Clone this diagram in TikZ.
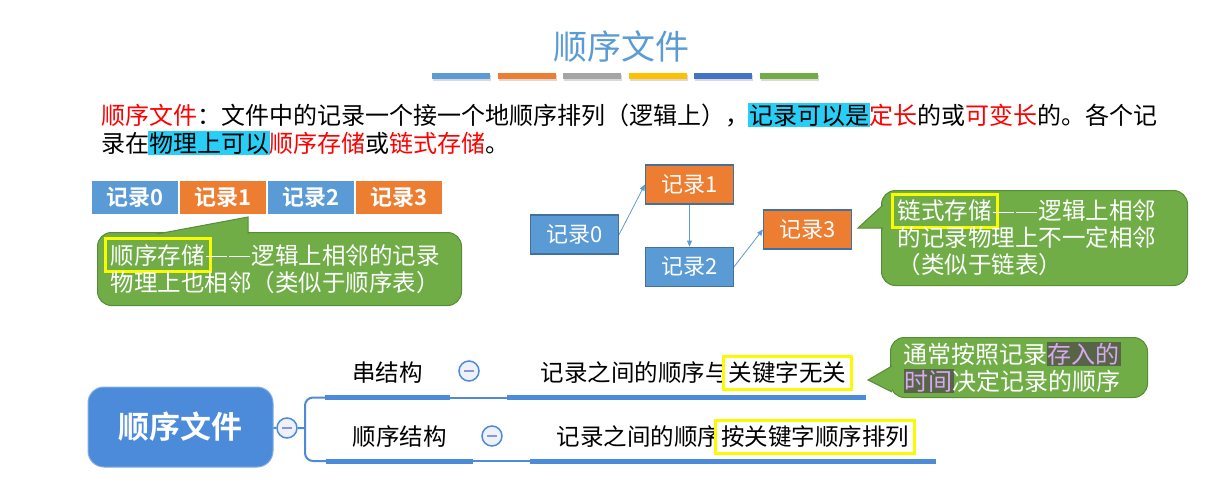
\documentclass[tikz,border=0pt]{standalone}
\usepackage{fontspec}
\setmainfont{Noto Sans CJK SC}[BoldFont={Noto Sans CJK SC Bold}]
\usetikzlibrary{arrows.meta,positioning}
\definecolor{skyblue}{RGB}{91,155,213}
\definecolor{tangerine}{RGB}{237,125,49}
\definecolor{ash}{RGB}{165,165,165}
\definecolor{gold}{RGB}{255,192,0}
\definecolor{royal}{RGB}{68,114,196}
\definecolor{grass}{RGB}{112,173,71}
\definecolor{grassedge}{RGB}{86,140,52}
\definecolor{boxedge}{RGB}{65,113,156}
\definecolor{mapblue}{RGB}{76,138,218}
\definecolor{hlcyan}{RGB}{40,206,246}
\definecolor{hlyellow}{RGB}{250,250,0}
\definecolor{hldark}{RGB}{88,100,72}
\definecolor{hlpurple}{RGB}{214,170,240}
\definecolor{foldfill}{RGB}{238,241,250}
\definecolor{foldminus}{RGB}{140,150,205}
\definecolor{textred}{RGB}{255,0,0}
\newcommand{\redtext}[1]{\textcolor{textred}{#1}}
\newcommand{\cyanmark}[1]{{\setlength{\fboxsep}{1pt}\kern-1pt\colorbox{hlcyan}{#1}\kern-1pt}}
\newcommand{\darkmark}[1]{{\setlength{\fboxsep}{1pt}\kern-1pt\colorbox{hldark}{\textcolor{hlpurple}{#1}}\kern-1pt}}
\newcommand{\yellowframe}[2]{{\setlength{\fboxrule}{3pt}\setlength{\fboxsep}{4pt}\kern-7pt\smash{\fcolorbox{hlyellow}{#1}{#2}}\kern-7pt}}
\newcommand{\longdash}{\hspace{0.06em}\rule[0.3em]{0.88em}{1.2pt}\hspace{0.12em}\rule[0.3em]{0.88em}{1.2pt}\hspace{0.06em}}

\begin{document}
\begin{tikzpicture}[
  x=1pt, y=-1pt,
  para/.style={anchor=base west, inner sep=0, font=\fontsize{24}{28}\selectfont},
  seqbox/.style={draw=white, line width=1pt, minimum width=87pt, minimum height=34pt, inner sep=0, text=white, font=\fontsize{22}{24}\selectfont\bfseries},
  linkbox/.style={draw=boxedge, line width=1.2pt, minimum width=88pt, minimum height=39pt, inner sep=0, text=white, font=\fontsize{22}{24}\selectfont},
  bubble/.style={draw=grassedge, line width=1pt, fill=grass, rounded corners=14pt, anchor=north west, align=left, text=white, inner ysep=0, font=\fontsize{23.5}{27}\selectfont},
  tip/.style={draw=grassedge, line width=1pt, fill=grass},
  link/.style={draw=skyblue, line width=0.8pt, -{Triangle[length=6pt,width=5pt]}},
  root/.style={fill=mapblue, draw=mapblue!70!white, line width=1pt, rounded corners=16pt, minimum width=185pt, minimum height=80pt, text=white, font=\fontsize{31}{34}\selectfont\bfseries},
  fold/.style={circle, draw=mapblue, line width=1.5pt, fill=foldfill, minimum size=20pt, inner sep=0,
    path picture={\draw[foldminus, line width=1.6pt] ([xshift=-5pt]path picture bounding box.center) -- ([xshift=5pt]path picture bounding box.center);}},
  topic/.style={anchor=south west, inner sep=0, font=\fontsize{23.5}{26}\selectfont},
  bar/.style={mapblue, line width=5pt},
  branch/.style={mapblue, line width=2pt}]
\useasboundingbox (0,0) rectangle (1229,495);
\node[text=skyblue, font=\fontsize{34}{40}\selectfont] (title) at (621,47) {顺序文件};
\foreach \c [count=\i from 0] in {skyblue,tangerine,ash,gold,royal,grass} {
  \fill[black!15] (433+65.6*\i,75) rectangle ++(58,6);
  \fill[\c] (432+65.6*\i,73) rectangle ++(58,6);
}
\node[para] (line1) at (101,124) {\redtext{顺序文件}：文件中的记录一个接一个地顺序排列（逻辑上），\cyanmark{记录可以是}\redtext{定长}的或\redtext{可变长}的。各个记};
\node[para] (line2) at (101,152) {录在\cyanmark{物理上可以}\redtext{顺序存储}或\redtext{链式存储}。};

\node[seqbox, fill=skyblue, anchor=north west] (s0) at (91,180) {记录0};
\node[seqbox, fill=tangerine, right=0pt of s0] (s1) {记录1};
\node[seqbox, fill=skyblue, right=0pt of s1] (s2) {记录2};
\node[seqbox, fill=tangerine, right=0pt of s2] (s3) {记录3};
\node[bubble, inner xsep=13pt, text width=338pt, minimum height=73pt] (b1) at (97,232) {\yellowframe{grass}{顺序存储}\longdash 逻辑上相邻的记录\\物理上也相邻（类似于顺序表）};
\path[tip] (157,234) -- (248,217) -- (248,234);

\node[linkbox, fill=skyblue] (r0) at (574.5,234.5) {记录0};
\node[linkbox, fill=tangerine] (r1) at (689.5,184.5) {记录1};
\node[linkbox, fill=skyblue, below=42pt of r1] (r2) {记录2};
\node[linkbox, fill=tangerine] (r3) at (807.5,229.5) {记录3};
\draw[link] (r0.east) -- (r1.west);
\draw[link] (r1) -- (r2);
\draw[link] (r2.east) -- (r3.west);
\node[bubble, inner xsep=16pt, text width=274pt, minimum height=95pt] (b2) at (881,190) {\yellowframe{grass}{链式存储}\longdash 逻辑上相邻\\的记录物理上不一定相邻\\（类似于链表）};
\path[tip] (883,205) -- (858,228) -- (883,228);

\node[root] (root) at (180.5,427) {顺序文件};
\node[fold] (f0) at (287,428) {};
\coordinate (fork) at (305,428);
\node[topic, minimum width=125pt, minimum height=49pt] (t1) at (325,397.5) {串结构};
\node[fold] (f1) at (469,371) {};
\node[topic, minimum width=359pt, minimum height=49pt] (t2) at (507,397.5) {\hspace*{14pt}记录之间的顺序与\yellowframe{white}{关键字无关}};
\node[topic, minimum width=147pt, minimum height=48pt] (t3) at (326,461) {顺序结构};
\node[fold] (f2) at (492,436) {};
\node[topic, minimum width=406pt, minimum height=48pt] (t4) at (530,461) {记录之间的顺序\yellowframe{white}{按关键字顺序排列}};
\draw[branch] (root) -- (f0) -- (fork);
\draw[branch, rounded corners=8pt] (t1.south west) -| (fork) |- (t3.south west);
\draw[branch] (t1.south east) -- (t2.south west);
\draw[branch] (t3.south east) -- (t4.south west);
\draw[bar] (t1.south west) -- (t1.south east);
\draw[bar] (t2.south west) -- (t2.south east);
\draw[bar] (t3.south west) -- (t3.south east);
\draw[bar] (t4.south west) -- (t4.south east);
\node[bubble, inner xsep=13pt, text width=231pt, minimum height=60pt, font=\fontsize{24}{28}\selectfont] (b3) at (890,337) {通常按照记录\darkmark{存入的}\\\darkmark{时间}决定记录的顺序};
\path[tip] (892,366) -- (868,380) -- (892,392);
\end{tikzpicture}
\end{document}
